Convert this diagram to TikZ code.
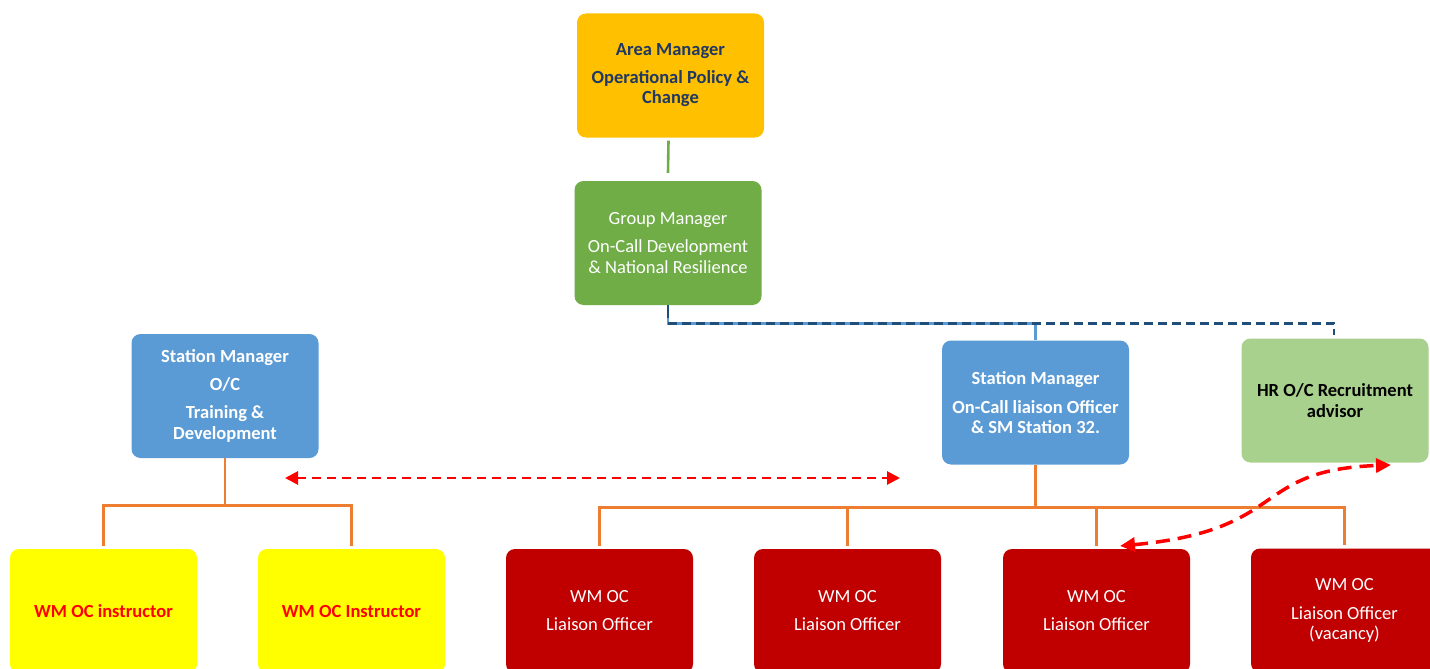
\documentclass[tikz,border=0pt]{standalone}
\usepackage{fontspec}
\setmainfont{Carlito}
\usetikzlibrary{arrows.meta,calc}
\definecolor{amber}{HTML}{FFC000}
\definecolor{navy}{HTML}{1F3864}
\definecolor{ggreen}{HTML}{70AD47}
\definecolor{sblue}{HTML}{5B9BD5}
\definecolor{lgreen}{HTML}{A9D18E}
\definecolor{dred}{HTML}{C00000}
\definecolor{orng}{HTML}{ED7D31}
\definecolor{dblue}{HTML}{1F4E79}
\definecolor{yel}{HTML}{FFFF00}
\tikzset{
  box/.style={rounded corners=9pt, minimum width=187pt, minimum height=124pt, inner sep=2pt, align=center, font=\fontsize{18.5}{20.5}\selectfont},
  bbox/.style={box, font=\fontsize{18.5}{20.5}\selectfont\bfseries},
  ln/.style={line width=2.6pt, draw=orng},
  rarrow/.style={draw=red, line width=2.8pt, dash pattern=on 9pt off 6pt, {Triangle[length=13pt,width=13pt]}-{Triangle[length=13pt,width=13pt]}},
}
\begin{document}
\begin{tikzpicture}[x=1pt,y=-1pt]
\path[use as bounding box, clip] (0,0) rectangle (1430,669);
\fill[white] (0,0) rectangle (1430,669);
% top
\node[bbox, fill=amber, text=navy] (am) at (670.5,75.5) {Area Manager\\[7pt]Operational Policy \&\\Change};
\node[box, fill=ggreen, text=white] (gm) at (668,243) {Group Manager\\[8pt]On-Call Development\\\& National Resilience};
\node[bbox, fill=sblue, text=white] (sml) at (225,396) {Station Manager\\[7.5pt]O/C\\[7.5pt]Training \&\\Development};
\node[bbox, fill=sblue, text=white] (smr) at (1035.5,402.5) {Station Manager\\[8.5pt]On-Call liaison Officer\\\& SM Station 32.};
\node[bbox, fill=lgreen, text=black] (hr) at (1335,400.5) {HR O/C Recruitment\\advisor};
% bottom
\node[bbox, fill=yel, text=red] (w1) at (103.5,611) {WM OC instructor};
\node[bbox, fill=yel, text=red] (w2) at (351.5,611) {WM OC Instructor};
\node[box, fill=dred, text=white] (w3) at (599.5,611) {WM OC\\[7.5pt]Liaison Officer};
\node[box, fill=dred, text=white] (w4) at (847.5,611) {WM OC\\[7.5pt]Liaison Officer};
\node[box, fill=dred, text=white] (w5) at (1096.5,611) {WM OC\\[7.5pt]Liaison Officer};
\node[box, fill=dred, text=white] (w6) at (1344.5,610.5) {WM OC\\[8.5pt]Liaison Officer\\(vacancy)};
% connectors
\draw[line width=2.6pt, draw=ggreen] ($(am.south)+(-2,3)$) -- ($(gm.north)+(0,-8)$);
\draw[line width=2.6pt, draw=sblue] (gm.south) -- ++(0,18) -| (smr.north);
\draw[line width=2.6pt, draw=dblue] (gm.south) -- ++(0,13);
\draw[line width=2.8pt, draw=dblue, dash pattern=on 9pt off 5pt] ($(gm.south)+(0,18)$) -- ($(gm.south)+(666,18)$) -- ($(hr.north)+(-1,-3)$);
\draw[ln] (sml.south) -- ++(0,47) coordinate (jl);
\draw[ln] ($(w1.north)+(0,-3)$) |- (jl) -| ($(w2.north)+(0,-3)$);
\draw[ln] (smr.south) -- ++(0,43) coordinate (jr);
\draw[ln] ($(w3.north)+(0,-3)$) |- (jr) -| ($(w6.north)+(0,-3)$);
\draw[ln] ($(w4.north)+(0,-3)$) -- ($(w4.north)+(0,-42)$);
\draw[ln] ($(w5.north)+(0,-3)$) -- ($(w5.north)+(0,-42)$);
% red arrows
\coordinate (a1) at (285,478);
\coordinate (a2) at (900,478);
\draw[rarrow] (a1) -- (a2);
\coordinate (c1) at (1120,546);
\coordinate (c2) at (1391,465);
\draw[draw=red, line width=3.5pt, dash pattern=on 14pt off 8pt, {Triangle[length=15pt,width=14pt]}-{Triangle[length=15pt,width=14pt]}] (c1) .. controls (1290,530) and (1250,470) .. (c2);
\end{tikzpicture}
\end{document}
